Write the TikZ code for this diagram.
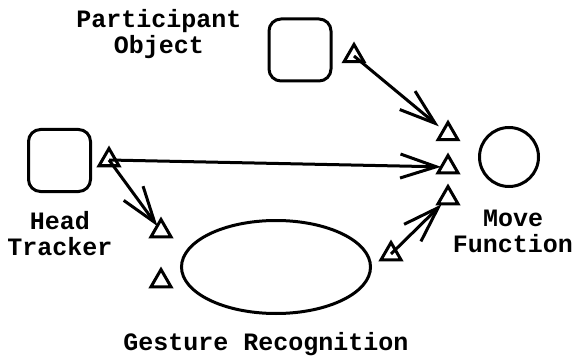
\documentclass[tikz,border=0pt]{standalone}
\usepackage{fontspec}
\setmainfont{Liberation Mono}
\usepackage{tikz}
\usetikzlibrary{shapes.geometric,arrows.meta}

\tikzset{
	comp/.style={draw, line width=3pt, rounded corners=12pt, minimum size=62pt, inner sep=0pt},
	port/.style={draw, line width=3pt, regular polygon, regular polygon sides=3, minimum size=23pt, inner sep=0pt},
	lbl/.style={font=\fontsize{25}{26}\selectfont\bfseries, align=center, inner sep=0pt, anchor=base},
	wire/.style={line width=3pt, -{Straight Barb[length=36pt,width=24pt]}}
}

\begin{document}
\begin{tikzpicture}[x=1pt,y=-1pt]
							\useasboundingbox (0,0) rectangle (580,358);
							% components
							\node[comp] (pobj) at (300,50) {};
							\node[comp] (htrk) at (59.5,160.5) {};
							\node[draw, line width=3pt, circle, minimum size=59pt, inner sep=0pt] (move) at (509,157) {};
							\node[draw, line width=3pt, ellipse, minimum width=189pt, minimum height=93pt, inner sep=0pt] (gest) at (276,267) {};
							% ports
							\node[port] (pobjout) at (354,56) {};
							\node[port] (htrkout) at (109,160) {};
							\node[port] (gestin) at (161,231) {};
							\node[port] (gestin2) at (161,281) {};
							\node[port] (gestout) at (391,254) {};
							\node[port] (movein) at (448,134) {};
							\node[port] (movein2) at (448,167) {};
							\node[port] (movein3) at (448,198) {};
							% labels (base = last line)
							\node[lbl] (pobjlbl) at (159,54) {Participant\\Object};
							\node[lbl] (htrklbl) at (60,255) {Head\\Tracker};
							\node[lbl] (movelbl) at (513,252) {Move\\Function};
							\node[lbl] (gestlbl) at (266,350) {Gesture Recognition};
							% connections
							\draw[wire, shorten >=12pt] (pobjout.center)--(movein.center);
							\draw[wire, shorten >=7pt] (htrkout.center)--(movein2.center);
							\draw[wire, shorten >=6pt] (htrkout.center)--(gestin.center);
							\draw[wire, shorten >=9pt] (gestout.center)--(movein3.center);
						\end{tikzpicture}
\end{document}
